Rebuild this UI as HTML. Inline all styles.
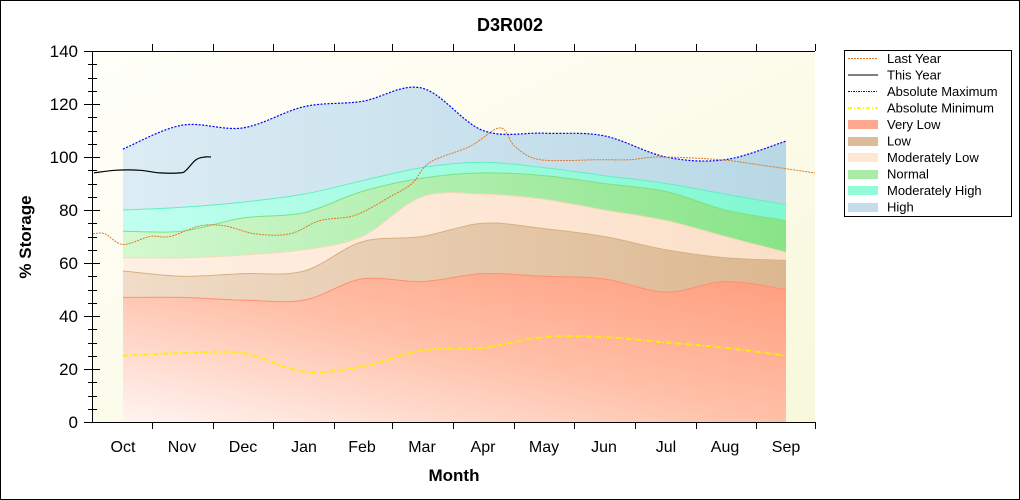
<!DOCTYPE html>
<html><head><meta charset="utf-8"><style>
html,body{margin:0;padding:0;background:#fff}
svg{display:block}
text{font-family:"Liberation Sans",Arial,sans-serif}
</style></head><body>
<svg id="s" width="1020" height="500" viewBox="0 0 1020 500">
<defs>
<linearGradient id="bg" x1="0" y1="0" x2="1" y2="1"><stop offset="0" stop-color="#fffffa"/><stop offset="1" stop-color="#f8f8dc"/></linearGradient>
<linearGradient id="gHigh" x1="0" y1="0" x2="1" y2="0"><stop offset="0" stop-color="#dcecf4"/><stop offset="1" stop-color="#b8d8e6"/></linearGradient>
<linearGradient id="gVL" x1="0" y1="1" x2="1" y2="0"><stop offset="0" stop-color="#fff4f2"/><stop offset="0.5" stop-color="#ffc0a8"/><stop offset="1" stop-color="#ff9c7c"/></linearGradient>
<linearGradient id="gMH" x1="0" y1="0" x2="1" y2="0"><stop offset="0" stop-color="#c0fff0"/><stop offset="1" stop-color="#80f8d0"/></linearGradient>
<linearGradient id="gN" x1="0" y1="0" x2="1" y2="0"><stop offset="0" stop-color="#d4f8d0"/><stop offset="1" stop-color="#88e488"/></linearGradient>
<linearGradient id="gML" x1="0" y1="0" x2="1" y2="0"><stop offset="0" stop-color="#fff0e4"/><stop offset="1" stop-color="#fbe0c8"/></linearGradient>
<linearGradient id="gL" x1="0" y1="0" x2="1" y2="0"><stop offset="0" stop-color="#f0dcc8"/><stop offset="1" stop-color="#dcb890"/></linearGradient>
</defs>
<rect x="0.5" y="0.5" width="1019" height="499" fill="#fff" stroke="#000"/>
<rect x="93" y="51" width="722" height="371" fill="url(#bg)"/>
<g id="bands"></g>
<g id="lines"></g>
<g id="axes" stroke="#000" stroke-width="1"></g>
<text x="510" y="31" text-anchor="middle" font-size="18" font-weight="bold">D3R002</text>
<g font-size="17" text-anchor="end">
<text x="78" y="428">0</text><text x="78" y="375">20</text><text x="78" y="322">40</text><text x="78" y="269">60</text>
<text x="78" y="216">80</text><text x="78" y="163">100</text><text x="78" y="110">120</text><text x="78" y="57">140</text>
</g>
<g font-size="16" text-anchor="middle">
<text x="123" y="452">Oct</text><text x="182" y="452">Nov</text><text x="243" y="452">Dec</text><text x="304" y="452">Jan</text>
<text x="362" y="452">Feb</text><text x="422" y="452">Mar</text><text x="483" y="452">Apr</text><text x="544" y="452">May</text>
<text x="604" y="452">Jun</text><text x="666" y="452">Jul</text><text x="725" y="452">Aug</text><text x="786" y="452">Sep</text>
</g>
<text x="454" y="481" text-anchor="middle" font-size="17" font-weight="bold">Month</text>
<text transform="translate(31,237) rotate(-90)" text-anchor="middle" font-size="17" font-weight="bold">% Storage</text>
<rect x="844.5" y="50.5" width="167" height="166" fill="#fff" stroke="#000"/>
<g font-size="13" fill="#000">
<text x="887" y="63">Last Year</text><text x="887" y="79.5">This Year</text><text x="887" y="96">Absolute Maximum</text>
<text x="887" y="112.5">Absolute Minimum</text><text x="887" y="129">Very Low</text><text x="887" y="145.5">Low</text>
<text x="887" y="162">Moderately Low</text><text x="887" y="178.5">Normal</text><text x="887" y="195">Moderately High</text><text x="887" y="211.5">High</text>
</g>
<g>
<line x1="848" y1="58.5" x2="878" y2="58.5" stroke="#e07828" stroke-dasharray="2,1"/>
<line x1="848" y1="75" x2="878" y2="75" stroke="#000"/>
<line x1="848" y1="91.5" x2="878" y2="91.5" stroke="#0000ff" stroke-dasharray="2,1,1,1"/>
<line x1="848" y1="108" x2="878" y2="108" stroke="#ffff00" stroke-width="2" stroke-dasharray="4,2,1,2"/>
<rect x="848" y="120" width="30" height="9" fill="#ffa890"/>
<rect x="848" y="137" width="30" height="9" fill="#dcbc98"/>
<rect x="848" y="153" width="30" height="9" fill="#fde8d4"/>
<rect x="848" y="170" width="30" height="9" fill="#a8eca8"/>
<rect x="848" y="186" width="30" height="9" fill="#90fcd8"/>
<rect x="848" y="203" width="30" height="9" fill="#c4dcec"/>
</g>
</svg>
<script>
const X=[123,182,243,304,362,422,483,544,604,666,725,786];
const Y=v=>422-v*2.65;
function path(pts){let d="M"+pts[0][0]+","+pts[0][1];for(let i=0;i<pts.length-1;i++){const p0=pts[i-1]||pts[i],p1=pts[i],p2=pts[i+1],p3=pts[i+2]||p2;const c1=[p1[0]+(p2[0]-p0[0])/6,p1[1]+(p2[1]-p0[1])/6],c2=[p2[0]-(p3[0]-p1[0])/6,p2[1]-(p3[1]-p1[1])/6];d+=` C${c1[0].toFixed(1)},${c1[1].toFixed(1)} ${c2[0].toFixed(1)},${c2[1].toFixed(1)} ${p2[0]},${p2[1].toFixed(1)}`;}return d;}
const mk=v=>v.map((y,i)=>[X[i],Y(y)]);
const MAX=[103,112,111,119,121,126,110,109,108,100,99,106];
const MH=[80,81,83,86,91,96,98,96,93,90,86,82];
const NO=[72,72,77,79,87,92,94,93,90,87,80,76];
const ML=[62,62,63,65,70,85,86,84,80,76,70,64];
const LO=[57,55,56,57,68,70,75,73,70,65,62,61];
const VL=[47,47,46,46,54,53,56,55,54,49,53,50];
const MIN=[25,26,26,19,21,27,28,32,32,30,28,25];
const ns="http://www.w3.org/2000/svg";
function el(g,tag,a){const e=document.createElementNS(ns,tag);for(const k in a)e.setAttribute(k,a[k]);document.getElementById(g).appendChild(e);return e;}
const bands=[[MAX,"url(#gHigh)","#0000ff"],[MH,"url(#gMH)","#60f0c0"],[NO,"url(#gN)","#80e080"],[ML,"url(#gML)","#f8d8b8"],[LO,"url(#gL)","#d8b080"],[VL,"url(#gVL)","#ff9070"]];
bands.forEach(([v,f,s])=>{el("bands","path",{d:path(mk(v))+" L786,422 L123,422 Z",fill:f});});
bands.slice(1).forEach(([v,f,s])=>{el("lines","path",{d:path(mk(v)),fill:"none",stroke:s,"stroke-width":1});});
el("lines","path",{d:path(mk(MAX)),fill:"none",stroke:"#0000ff","stroke-width":1.2,"stroke-dasharray":"2,1.5"});
el("lines","path",{d:path(mk(MIN)),fill:"none",stroke:"#ffee00","stroke-width":2,"stroke-dasharray":"5,2,1,2"});
const LY=[[93,71],[105,71],[123,67],[150,70],[170,70],[200,74],[225,74],[255,71],[290,71],[320,76],[355,78],[390,85],[412,90],[430,98],[470,104],[500,111],[515,104],[540,99],[600,99],[630,99],[660,100],[720,99],[760,97],[815,94]].map(p=>[p[0],Y(p[1])]);
el("lines","path",{d:path(LY),fill:"none",stroke:"#e07828","stroke-width":1,"stroke-dasharray":"2,1"});
const TY=[[94,94],[115,95],[140,95],[160,94],[180,94],[186,95],[196,99],[205,100],[211,100]].map(p=>[p[0],Y(p[1])]);
el("lines","path",{d:path(TY),fill:"none",stroke:"#000","stroke-width":1.2});
el("axes","line",{x1:92.5,y1:51,x2:92.5,y2:422});
el("axes","line",{x1:92,y1:422.5,x2:815,y2:422.5});
el("axes","line",{x1:92,y1:51.5,x2:815,y2:51.5});
for(let v=0;v<=140;v+=5){const y=Math.round(Y(v))+0.5;const big=v%20==0;el("axes","line",{x1:big?84:88,y1:y,x2:big?100:97,y2:y});}
[152,213,273,334,392,453,514,574,635,696,756,815].forEach(x=>{el("axes","line",{x1:x+0.5,y1:422,x2:x+0.5,y2:429});el("axes","line",{x1:x+0.5,y1:51,x2:x+0.5,y2:44});});
</script>
</body></html>
